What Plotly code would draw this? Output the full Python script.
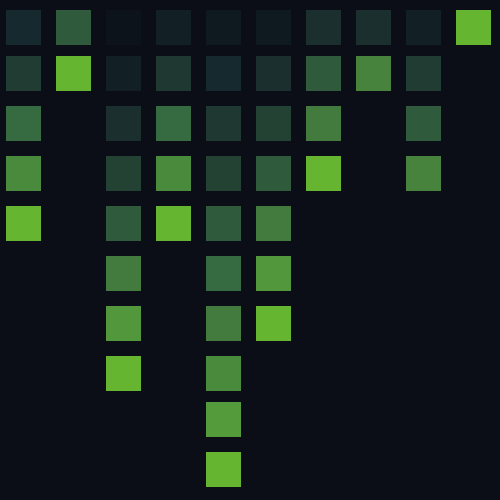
import plotly.graph_objects as go

# Column stacks: value (0-1) of each square, top to bottom
col0 = [0.15, 0.30, 0.55, 0.75, 1.00]
col1 = [0.45, 1.00]
col2 = [0.00, 0.10, 0.20, 0.35, 0.45, 0.65, 0.85, 1.00]
col3 = [0.10, 0.27, 0.55, 0.75, 1.00]
col4 = [0.05, 0.15, 0.27, 0.35, 0.45, 0.55, 0.65, 0.75, 0.88, 1.00]
col5 = [0.05, 0.20, 0.35, 0.45, 0.65, 0.85, 1.00]
col6 = [0.20, 0.45, 0.65, 1.00]
col7 = [0.20, 0.70]
col8 = [0.10, 0.30, 0.45, 0.70]
col9 = [1.00]
columns = [col0, col1, col2, col3, col4, col5, col6, col7, col8, col9]

# vertical position of each row slot
row_pos = [0.08, 1, 2, 3, 4, 5, 6, 7, 7.92, 8.92]

xs, ys, vs = [], [], []
for ci, col in enumerate(columns):
    for ri, v in enumerate(col):
        xs.append(ci)
        ys.append(row_pos[ri])
        vs.append(v)

colorscale = [
    [0.00, "#0c131a"],
    [0.05, "#0f1a20"],
    [0.10, "#122026"],
    [0.15, "#16292e"],
    [0.20, "#1b2f2e"],
    [0.27, "#1f3832"],
    [0.35, "#244234"],
    [0.45, "#2f5a3b"],
    [0.55, "#366a40"],
    [0.65, "#437b3e"],
    [0.75, "#4a8a3c"],
    [0.87, "#539a3c"],
    [1.00, "#66b530"],
]

fig = go.Figure(go.Scatter(
    x=xs, y=ys, mode="markers",
    marker=dict(symbol="square", size=35, color=vs, colorscale=colorscale,
                cmin=0, cmax=1, line=dict(width=0)),
    hoverinfo="skip",
))

bg = "#0b0e16"
fig.update_layout(
    width=500, height=500,
    margin=dict(l=0, r=0, t=0, b=0),
    paper_bgcolor=bg, plot_bgcolor=bg,
    showlegend=False,
    xaxis=dict(range=[-0.47, 9.53], visible=False, fixedrange=True),
    yaxis=dict(range=[9.53, -0.47], visible=False, fixedrange=True),
)

fig.write_html("out.html")
